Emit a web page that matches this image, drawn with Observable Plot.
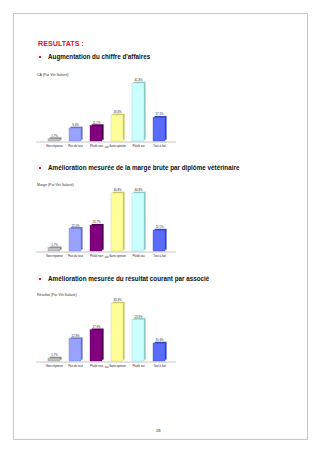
<!DOCTYPE html>
<html><head><meta charset="utf-8">
<script src="https://cdn.jsdelivr.net/npm/d3@7"></script>
<script src="https://cdn.jsdelivr.net/npm/@observablehq/plot@0.6"></script>
<style>
html,body{margin:0;padding:0;background:#fff;}
#page{position:relative;width:320px;height:453px;overflow:hidden;font-family:"Liberation Sans",Arial,sans-serif;}
#frame{position:absolute;left:12.5px;top:12.5px;width:293px;height:425px;border:1.3px solid #c8c8c8;}
.t{position:absolute;white-space:nowrap;line-height:1;}
.res{left:38px;top:39.6px;font-size:7.2px;font-weight:bold;color:#e8141b;}
.bul{position:absolute;width:2px;height:2px;background:#e8141b;left:38.5px;}
.h{left:48px;font-size:6.3px;font-weight:bold;color:#111;}
.ct{left:37px;font-size:3.5px;color:#333;}
.chart{position:absolute;left:30px;}
.pn{left:156px;top:429px;font-size:4.6px;font-family:"Liberation Serif","Times New Roman",serif;color:#222;}
</style></head>
<body><div id="page"><div id="frame"></div></div>
<script>
const categories = ["Non réponse","Pas du tout","Plutôt non","Sans opinion","Plutôt oui","Tout à fait"];
const caValues = [1.7, 9.4, 11.1, 18.8, 41.8, 17.1];
const margeValues = [1.7, 12.0, 13.7, 30.8, 30.8, 11.1];
const resultatValues = [1.7, 12.8, 17.9, 33.3, 23.9, 10.3];
const headings = ["Augmentation du chiffre d'affaires","Amélioration mesurée de la marge brute par diplôme vétérinaire","Amélioration mesurée du résultat courant par associé"];
const chartTitles = ["CA (Par Vét Salarié)","Marge (Par Vét Salarié)","Résultat (Par Vét Salarié)"];
const frontColors = ["#c0c0c0","#9aa2ff","#800080","#ffff99","#ccffff","#5a6bff"];
const sideColors = ["#8a8a8a","#6870c8","#4a004a","#c8c86a","#8cc8c8","#3443c0"];

const page = document.getElementById("page");
function addText(cls, txt, top){
  const d = document.createElement("div");
  d.className = "t " + cls; d.textContent = txt;
  if (top != null) d.style.top = top + "px";
  page.appendChild(d); return d;
}
addText("res","RESULTATS :");
addText("pn","28");

const sections = [caValues, margeValues, resultatValues];
const headTops = [54, 165, 275.5];
const titleTops = [74.2, 184.2, 294.2];
const chartTops = [72, 182, 292];

sections.forEach((vals, k) => {
  const b = document.createElement("div"); b.className = "bul"; b.style.top = (headTops[k] + 2.2) + "px"; page.appendChild(b);
  addText("h", headings[k], headTops[k]);
  addText("ct", chartTitles[k], titleTops[k]);
  const data = categories.map((c, i) => ({cat: c, v: vals[i], i}));
  const fmt = d => d.v.toFixed(1) + "%";
  const svg = Plot.plot({
    width: 150, height: 78,
    marginLeft: 6.2, marginRight: 4.1, marginTop: 11, marginBottom: 9,
    x: {domain: categories, padding: 0.45, axis: null},
    y: {domain: [0, d3.max(vals)], axis: null},
    style: {background: "transparent", overflow: "visible", fontFamily: "'Liberation Sans', Arial, sans-serif"},
    marks: [
      Plot.ruleY([0], {stroke: "#b8b8b8", strokeWidth: 0.8, dy: 0.5}),
      Plot.barY(data, {x: "cat", y: "v", fill: d => sideColors[d.i], dx: 1.6, dy: -1.3}),
      Plot.barY(data, {x: "cat", y: "v", fill: d => frontColors[d.i], stroke: d => sideColors[d.i], strokeWidth: 0.35}),
      Plot.text(data, {x: "cat", y: "v", text: fmt, dy: -3.2, fontSize: 2.8, fill: "#222"}),
      Plot.axisX({tickSize: 0, tickPadding: 3, fontSize: 2.9, fill: "#222"})
    ]
  });
  svg.classList.add("chart");
  svg.style.position = "absolute";
  svg.style.left = "30px";
  svg.style.top = chartTops[k] + "px";
  page.appendChild(svg);
});
</script>
</body></html>
